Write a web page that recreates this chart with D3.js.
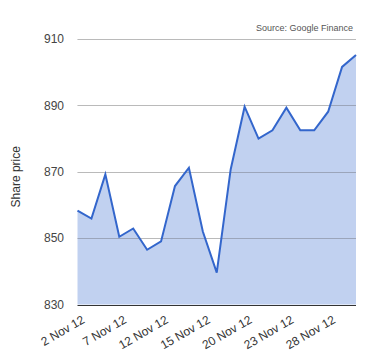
<!DOCTYPE html>
<html><head><meta charset="utf-8">
<script src="https://cdn.jsdelivr.net/npm/d3@7"></script>
<style>body{margin:0;background:#fff}svg{display:block;font-family:Arial,"Liberation Sans",sans-serif}</style>
</head><body><svg id="c" width="380" height="360"></svg>
<script>
const dates = ["2 Nov 12","5 Nov 12","6 Nov 12","7 Nov 12","8 Nov 12","9 Nov 12","12 Nov 12","13 Nov 12","14 Nov 12","15 Nov 12","16 Nov 12","19 Nov 12","20 Nov 12","21 Nov 12","22 Nov 12","23 Nov 12","26 Nov 12","27 Nov 12","28 Nov 12","29 Nov 12","30 Nov 12"];
const prices = [858.3,855.9,869.2,850.4,852.9,846.5,849.0,865.7,871.2,852.0,839.6,870.7,889.6,880.0,882.5,889.3,882.5,882.5,888.1,901.6,905.2];
const yTicks = [830,850,870,890,910];
const xTickLabels = ["2 Nov 12","7 Nov 12","12 Nov 12","15 Nov 12","20 Nov 12","23 Nov 12","28 Nov 12"];

const svg = d3.select("#c");
const L=77.5, R=356, T=39, B=304.5;
const x = d3.scalePoint().domain(dates).range([L,R]);
const y = d3.scaleLinear().domain([830,910]).range([B,T]);

// grid
svg.append("g").selectAll("line").data(yTicks.filter(d=>d!==830)).join("line")
  .attr("x1",L).attr("x2",R).attr("y1",d=>Math.round(y(d))+0.5).attr("y2",d=>Math.round(y(d))+0.5)
  .attr("stroke","#cccccc").attr("stroke-width",1);

// area
svg.append("path").datum(prices)
  .attr("d", d3.area().x((d,i)=>x(dates[i])).y0(y(830)).y1(d=>y(d)))
  .attr("fill","#3366cc").attr("fill-opacity",0.3);
// grid over area faintly
svg.append("g").selectAll("line").data(yTicks.filter(d=>d!==830)).join("line")
  .attr("x1",L).attr("x2",R).attr("y1",d=>Math.round(y(d))+0.5).attr("y2",d=>Math.round(y(d))+0.5)
  .attr("stroke","#999999").attr("stroke-opacity",0.35).attr("stroke-width",1);
// line
svg.append("path").datum(prices)
  .attr("d", d3.line().x((d,i)=>x(dates[i])).y(d=>y(d)))
  .attr("fill","none").attr("stroke","#3366cc").attr("stroke-width",2).attr("stroke-linejoin","miter");

// baseline
svg.append("line").attr("x1",L).attr("x2",R).attr("y1",Math.round(y(830))+0.5).attr("y2",Math.round(y(830))+0.5)
  .attr("stroke","#333333").attr("stroke-width",1);

// y labels
svg.append("g").selectAll("text").data(yTicks).join("text")
  .attr("x",64).attr("y",d=>y(d)).attr("dy","0.35em").attr("text-anchor","end")
  .attr("font-size",12).attr("fill","#444444").text(d=>d);

// x labels
svg.append("g").selectAll("text").data(xTickLabels).join("text")
  .attr("transform",d=>`translate(${x(d)+6},${B+14}) rotate(-30)`)
  .attr("text-anchor","end").attr("dy","0.35em")
  .attr("font-size",12).attr("fill","#333333").text(d=>d);

// y title
svg.append("text").attr("transform",`translate(20,${(T+B)/2+5}) rotate(-90)`)
  .attr("text-anchor","middle").attr("font-size",12).attr("fill","#333333").text("Share price");

// source
svg.append("text").attr("x",353).attr("y",31).attr("text-anchor","end")
  .attr("font-size",9).attr("fill","#555555").text("Source: Google Finance");
</script></body></html>
